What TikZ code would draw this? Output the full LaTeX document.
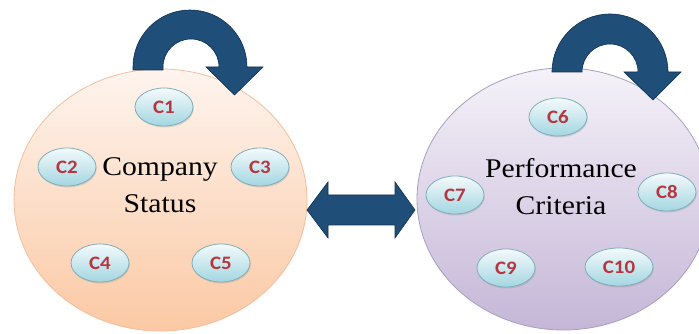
\documentclass[tikz,border=0pt]{standalone}
\usepackage{fontspec}
\setmainfont{Liberation Serif}
\newfontfamily\lblfont{Carlito}
\usetikzlibrary{shapes.geometric,shadows}
\definecolor{peachTop}{HTML}{FEF4EE}
\definecolor{peachBot}{HTML}{FBC9A4}
\definecolor{peachLine}{HTML}{F2BE9C}
\definecolor{lavTop}{HTML}{F5F2F9}
\definecolor{lavBot}{HTML}{C5B6D7}
\definecolor{lavLine}{HTML}{A79FC0}
\definecolor{cyTop}{HTML}{F4FAFB}
\definecolor{cyBot}{HTML}{A3D6E1}
\definecolor{cyLine}{HTML}{7EAEBC}
\definecolor{lblRed}{HTML}{B83540}
\definecolor{navy}{HTML}{1F4E79}
\definecolor{navyLine}{HTML}{0F2F4F}
\tikzset{
  bigL/.style={ellipse, minimum width=293pt, minimum height=262pt, inner sep=0pt,
    top color=peachTop, bottom color=peachBot, draw=peachLine, line width=0.8pt},
  bigR/.style={ellipse, minimum width=293pt, minimum height=262pt, inner sep=0pt,
    top color=lavTop, bottom color=lavBot, draw=lavLine, line width=0.8pt},
  crit/.style={ellipse, minimum width=58pt, minimum height=38pt, inner sep=0pt,
    top color=cyTop, bottom color=cyBot, draw=cyLine, line width=0.8pt,
    drop shadow={opacity=0.25, shadow xshift=0.8pt, shadow yshift=-1.5pt},
    font=\lblfont\bfseries\fontsize{19}{22}\selectfont, text=lblRed},
  title/.style={align=center, anchor=base,
    font=\fontsize{27}{37}\selectfont},
  blockarrow/.style={fill=navy, draw=navyLine, line width=0.6pt, line join=miter}
}
\begin{document}
\begin{tikzpicture}[x=1pt,y=1pt]
\useasboundingbox (0,0) rectangle (699,334);
\clip (0,0) rectangle (699,334);
% big circles
\node[bigL] (L) at (160.5,134) {};
\node[bigR] (R) at (563.5,135) {};
% titles (base anchor = baseline of the last line)
\node[title] (tL) at (160,121) {\scalebox{1.1}[1]{Company}\\\scalebox{1.1}[1]{Status}};
\node[title] (tR) at (561,119) {\scalebox{1.1}[1]{Performance}\\\scalebox{1.1}[1]{Criteria}};
% criteria ellipses
\node[crit] (c1) at (164,227) {\scalebox{1.1}[1]{C1}};
\node[crit] (c2) at (67,167) {\scalebox{1.1}[1]{C2}};
\node[crit] (c3) at (260,167) {\scalebox{1.1}[1]{C3}};
\node[crit] (c4) at (100,71) {\scalebox{1.1}[1]{C4}};
\node[crit] (c5) at (221,71) {\scalebox{1.1}[1]{C5}};
\node[crit] (c6) at (558,217) {\scalebox{1.1}[1]{C6}};
\node[crit] (c7) at (455,139) {\scalebox{1.1}[1]{C7}};
\node[crit] (c8) at (667,142) {\scalebox{1.1}[1]{C8}};
\node[crit] (c9) at (506,66) {\scalebox{1.1}[1]{C9}};
\node[crit, minimum width=68pt] (c10) at (619,67) {\scalebox{1.1}[1]{C10}};
% curved arrow over left circle
\draw[blockarrow] (133,264) -- (133,267) arc[start angle=180, end angle=0, radius=57]
  -- (263,267) -- (234.5,239) -- (206,267) -- (219,267)
  arc[start angle=0, end angle=180, radius=28] -- (163,264) -- cycle;
% curved arrow over right circle
\draw[blockarrow] (552,262) arc[start angle=180, end angle=0, radius=58]
  -- (681,262) -- (653,234) -- (624,262) -- (638,262)
  arc[start angle=0, end angle=180, radius=28] -- cycle;
% double arrow between circles
\draw[blockarrow] (307,124) -- (328,152) -- (328,139) -- (395,139) -- (395,152)
  -- (415,124) -- (395,96) -- (395,109) -- (328,109) -- (328,96) -- cycle;
\end{tikzpicture}
\end{document}
